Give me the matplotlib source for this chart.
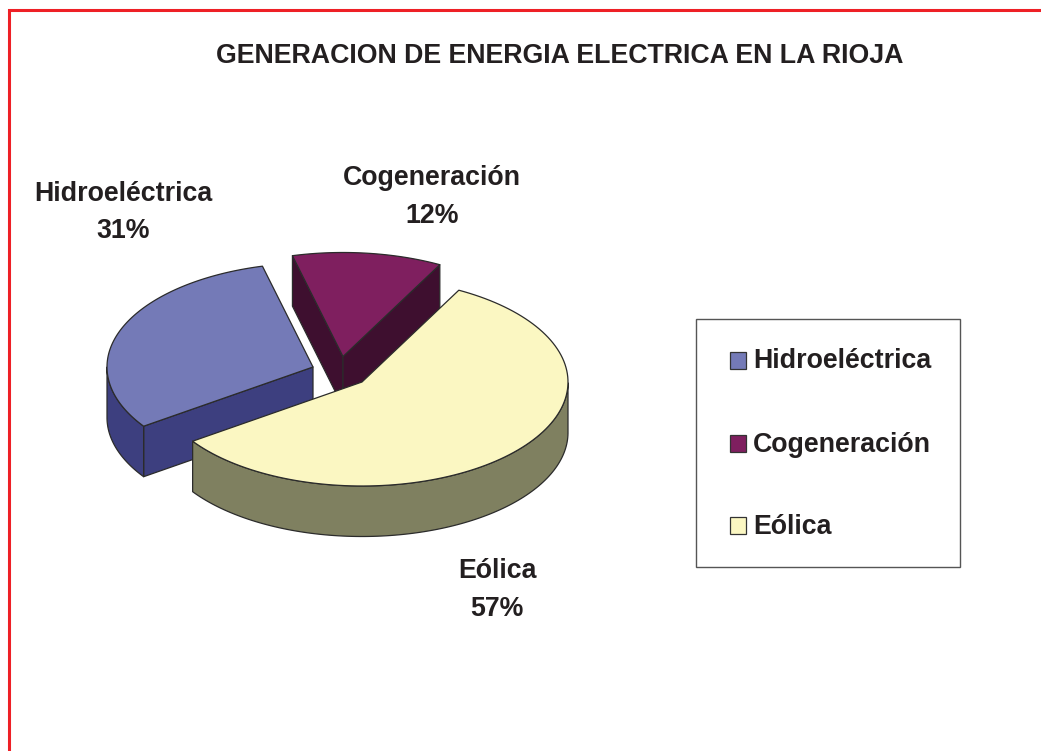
import numpy as np
import matplotlib
matplotlib.use("Agg")
import matplotlib.pyplot as plt
from matplotlib.patches import Rectangle

plt.rcParams['font.family'] = ['Liberation Sans', 'DejaVu Sans']

# shares, the labels show them rounded
categories = ['Hidroeléctrica', 'Cogeneración', 'Eólica']
values = [30.6, 11.7, 57.4]
top_colors = ['#747ab7', '#7f1f5f', '#fbf7c2']
side_colors = ['#3d3f7f', '#3e0f2f', '#7f8060']
title = 'GENERACION DE ENERGIA ELECTRICA EN LA RIOJA'

# pie layout, in pixels of the picture
rx, ry, depth = 206, 104, 50.5
start = 214.7
apexes = [(313, 367), (343, 356.5), (362, 382)]
label_pos = [(123.5, 212.5), (432, 197), (497, 590)]
edge = '#2b2b2b'
text_col = '#231f20'
red = '#ee2026'
font_size = 19.3

fig = plt.figure(figsize=(10.41, 7.51), dpi=100)
ax = fig.add_axes([0, 0, 1, 1])
ax.set_xlim(0, 1041)
ax.set_ylim(751, 0)
ax.axis('off')

# red frame, open on the right and at the bottom
ax.plot([8.8, 8.8, 1041], [751, 9.8, 9.8], color=red, lw=2.2,
        solid_joinstyle='miter', zorder=1)


def rim(cx, cy, t0, t1, n=120):
    t = np.radians(np.linspace(t0, t1, n))
    return cx + rx * np.cos(t), cy - ry * np.sin(t)


def wall(xs, ys, color, z):
    # extrude a line downward into a side face
    px = np.r_[xs, xs[::-1]]
    py = np.r_[ys, ys[::-1] + depth]
    ax.fill(px, py, facecolor=color, edgecolor=edge, lw=0.9,
            joinstyle='round', zorder=z)


z = 2
angle = start
total = sum(values)
for val, top, side, (cx, cy) in zip(values, top_colors, side_colors, apexes):
    t0 = angle
    t1 = angle - val / total * 360
    angle = t1
    x, y = rim(cx, cy, t0, t1)

    # radial faces, skip the ones turned away from the viewer
    if np.cos(np.radians(t0)) < 0:
        wall(np.array([cx, x[0]]), np.array([cy, y[0]]), side, z)
    if np.cos(np.radians(t1)) > 0:
        wall(np.array([cx, x[-1]]), np.array([cy, y[-1]]), side, z)

    # outer face, only the part looking at the viewer
    t = np.linspace(t0, t1, 240)
    front = np.sin(np.radians(t)) <= 0
    if front.any():
        fx, fy = rim(cx, cy, t[front][0], t[front][-1])
        wall(fx, fy, side, z)

    # top face
    ax.fill(np.r_[cx, x], np.r_[cy, y], facecolor=top, edgecolor=edge, lw=0.9,
            joinstyle='round', zorder=z + 1)
    z += 2

ax.text(560, 56, title, ha='center', va='center', fontsize=font_size,
        fontweight='bold', color=text_col, zorder=20)

for name, val, (lx, ly) in zip(categories, values, label_pos):
    ax.text(lx, ly, f'{name}\n{val:.0f}%', ha='center', va='center', fontsize=font_size,
            fontweight='bold', color=text_col, linespacing=1.56, zorder=20)

# legend box
ax.add_patch(Rectangle((696, 319), 264, 248, facecolor='white', edgecolor='#555555',
                       lw=1.0, zorder=10))
legend_y = [360.5, 443.5, 525.5]
for name, top, ly in zip(categories, top_colors, legend_y):
    ax.add_patch(Rectangle((730, ly - 8.5), 16, 17, facecolor=top, edgecolor='#333333',
                           lw=0.9, zorder=11))
    ax.text(753, ly + 1, name, ha='left', va='center', fontsize=font_size,
            fontweight='bold', color=text_col, zorder=12)

fig.savefig('out.png', dpi=100, facecolor='white')
